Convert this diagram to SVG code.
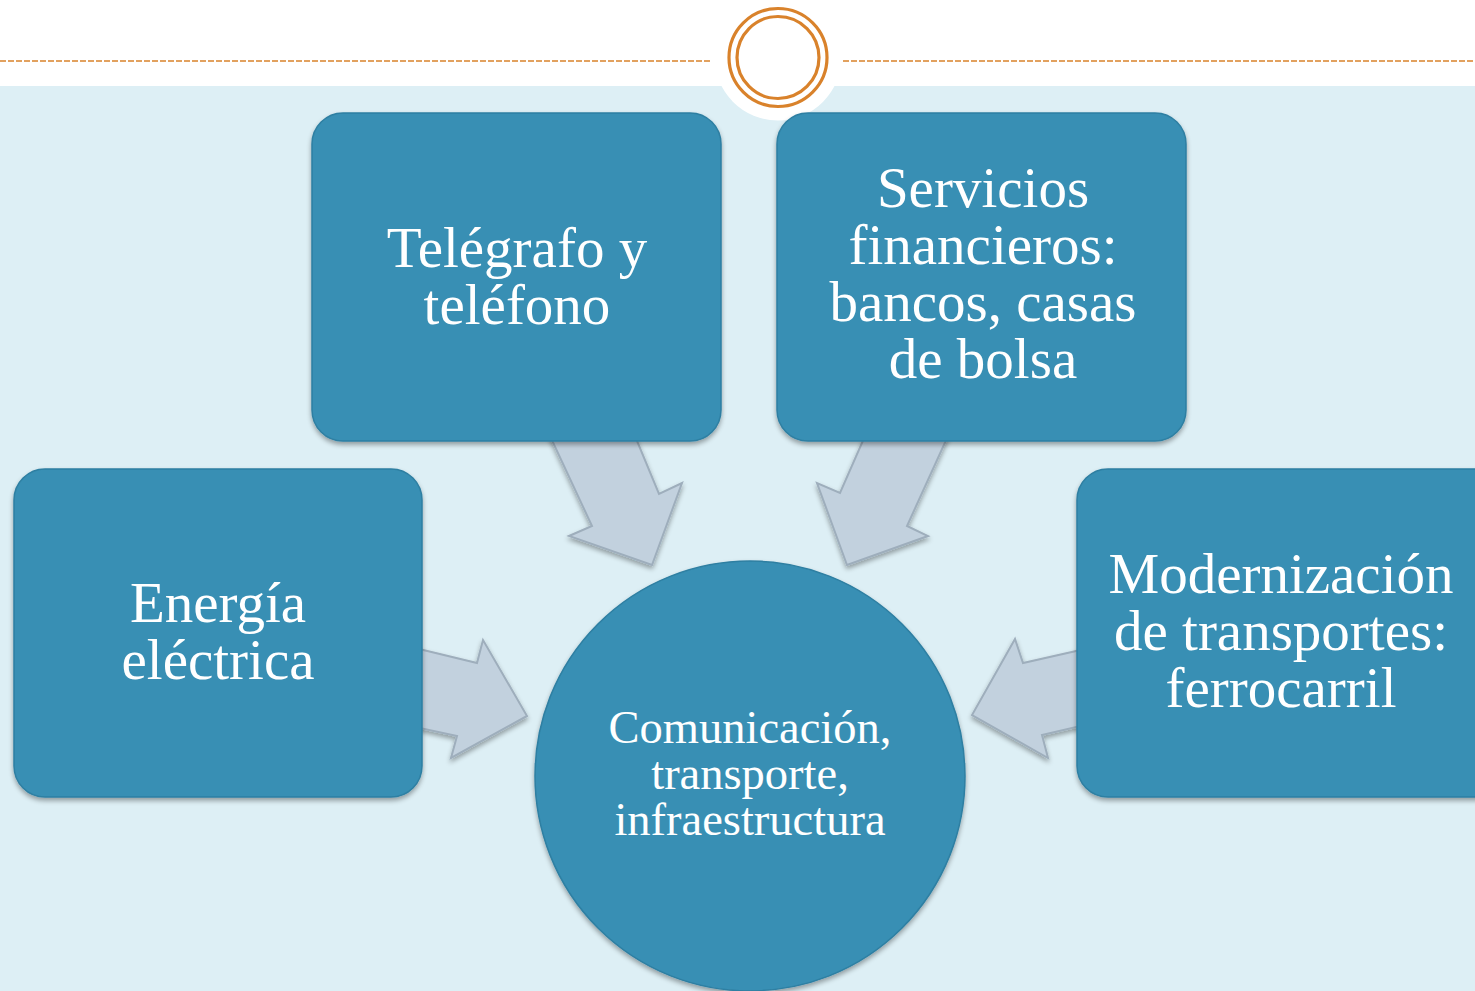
<svg xmlns="http://www.w3.org/2000/svg" width="1475" height="991" viewBox="0 0 1475 991">
<defs>
<filter id="sh" x="-10%" y="-10%" width="120%" height="125%">
<feGaussianBlur in="SourceAlpha" stdDeviation="2.5"/>
<feOffset dx="0" dy="3" result="b"/>
<feComponentTransfer><feFuncA type="linear" slope="0.35"/></feComponentTransfer>
<feMerge><feMergeNode/><feMergeNode in="SourceGraphic"/></feMerge>
</filter>
</defs>
<style>
.node{fill:#378FB4;stroke:#2E7FA2;stroke-width:1.5;filter:url(#sh)}
.arr{fill:#C2D1DE;stroke:#9EAEBC;stroke-width:2;stroke-linejoin:miter;filter:url(#sh)}
.t{font-family:"Liberation Serif","Times New Roman",serif;fill:#FFFFFF;text-anchor:middle}
.big{font-size:57px}
.mid{font-size:46.5px}
.dash{stroke:#D9822B;stroke-width:1.6;stroke-dasharray:6 2;fill:none}
.ring{fill:none;stroke:#D9822B;stroke-width:3.2}
</style>
<rect x="0" y="0" width="1475" height="991" fill="#FFFFFF"/>
<rect x="0" y="86" width="1475" height="905" fill="#DDEFF5"/>
<g id="header">
<line class="dash" x1="0" y1="61" x2="712" y2="61"/>
<line class="dash" x1="843" y1="61" x2="1475" y2="61"/>
<circle cx="778" cy="57" r="63.5" fill="#FFFFFF"/>
<circle class="ring" cx="778" cy="57.5" r="49"/>
<circle class="ring" cx="778" cy="57.5" r="41"/>
</g>
<g id="connectors">
<polygon class="arr" points="550,436 635,436 659,494 682,483 652,565 569,536 592,526"/>
<polygon class="arr" points="865,436 948,436 907,526 928,536 847,565 817,483 840,493"/>
<polygon class="arr" points="415,648 477,663 483,640 527,716 451,758 457,736 415,727"/>
<polygon class="arr" points="1085,649 1023,663 1015,639 972,715 1048,758 1042,735 1085,725"/>
</g>
<g id="node-telegrafo">
<rect class="node" x="312" y="113" width="409" height="328" rx="31"/>
<text class="t big" x="517" y="267">Telégrafo y</text>
<text class="t big" x="517" y="324">teléfono</text>
</g>
<g id="node-servicios">
<rect class="node" x="777" y="113" width="409" height="328" rx="31"/>
<text class="t big" x="983" y="207">Servicios</text>
<text class="t big" x="983" y="264">financieros:</text>
<text class="t big" x="983" y="321">bancos, casas</text>
<text class="t big" x="983" y="378">de bolsa</text>
</g>
<g id="node-energia">
<rect class="node" x="14" y="469" width="408" height="328" rx="31"/>
<text class="t big" x="218" y="622">Energía</text>
<text class="t big" x="218" y="679">eléctrica</text>
</g>
<g id="node-modernizacion">
<rect class="node" x="1077" y="469" width="430" height="328" rx="31"/>
<text class="t big" x="1281" y="593">Modernización</text>
<text class="t big" x="1281" y="650">de transportes:</text>
<text class="t big" x="1281" y="707">ferrocarril</text>
</g>
<g id="node-centro">
<circle class="node" cx="750" cy="776" r="215"/>
<text class="t mid" x="750" y="743">Comunicación,</text>
<text class="t mid" x="750" y="789">transporte,</text>
<text class="t mid" x="750" y="835">infraestructura</text>
</g>
</svg>
